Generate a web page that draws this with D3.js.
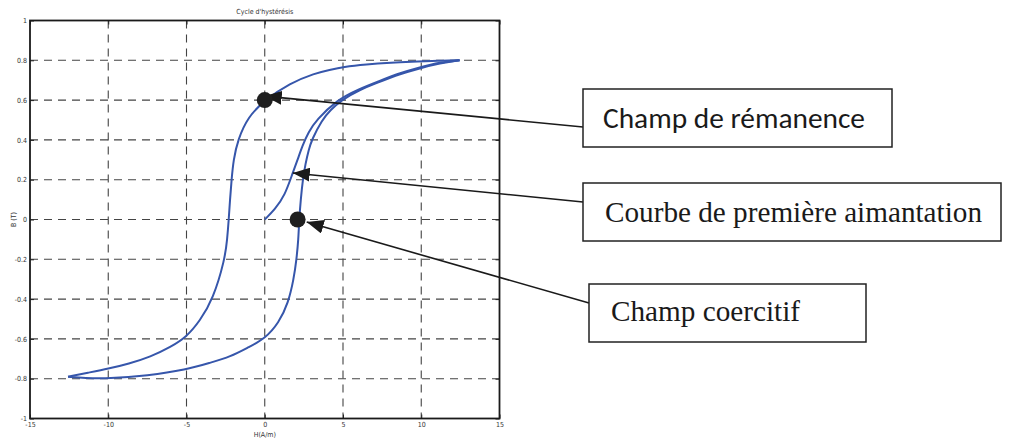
<!DOCTYPE html>
<html>
<head>
<meta charset="utf-8">
<script src="https://cdn.jsdelivr.net/npm/d3@7"></script>
<style>
  body { margin: 0; background: #fff; }
  .tick-label { font-family: "Liberation Sans Narrow", "DejaVu Sans Condensed", "Liberation Sans", sans-serif; font-size: 7px; fill: #333; }
  .grid-line { stroke: #444; stroke-width: 1.1; stroke-dasharray: 8,6; }
  .loop { fill: none; stroke: #3656ab; stroke-width: 2; }
  .note-box { fill: #fff; stroke: #222; stroke-width: 1.5; }
  .arrow { stroke: #1a1a1a; stroke-width: 1.6; }
  .note-sans { font-family: Carlito, Lato, "Open Sans", sans-serif; font-size: 28px; fill: #1a1a1a; }
  .note-serif { font-family: "Liberation Serif", "DejaVu Serif", serif; font-size: 29px; fill: #1a1a1a; }
</style>
</head>
<body>
<div id="chart"></div>
<script>
// descending branch (upper), from the positive tip to the negative tip
const hDown = [12.45, 11, 9.9, 8, 6.5, 5, 4.15, 3.2, 1.6, 0, -1.08, -1.72, -2.0, -2.12, -2.22, -2.3, -2.4, -2.55, -3.3, -4.15, -5, -6, -7.3, -8.7, -10, -11.3, -12.57];
const bDown = [0.80, 0.798, 0.795, 0.788, 0.78, 0.767, 0.752, 0.735, 0.685, 0.6, 0.515, 0.4, 0.3, 0.2, 0.1, 0, -0.1, -0.2, -0.4, -0.51, -0.59, -0.64, -0.69, -0.725, -0.75, -0.77, -0.79];

// ascending branch (lower), from the negative tip back to the positive tip
const hUp = [-12.57, -11.5, -10, -7.5, -5, -3.5, -2.2, -1, 0, 0.9, 1.5, 1.85, 2.03, 2.15, 2.2, 2.3, 2.43, 2.6, 2.81, 3.0, 3.65, 4.2, 4.9, 6, 7.3, 8.6, 9.9, 11.2, 12.45];
const bUp = [-0.79, -0.797, -0.80, -0.785, -0.755, -0.72, -0.69, -0.64, -0.6, -0.52, -0.42, -0.3, -0.2, -0.1, 0, 0.1, 0.2, 0.28, 0.35, 0.4, 0.5, 0.55, 0.6, 0.65, 0.69, 0.73, 0.76, 0.785, 0.80];

// first magnetisation curve
const hFirst = [0, 0.64, 1.28, 1.79, 2.1, 2.4, 2.8, 3.3, 4.6, 6, 7.3, 8.6, 9.9, 11.2, 12.45];
const bFirst = [0, 0.05, 0.12, 0.235, 0.3, 0.37, 0.44, 0.5, 0.6, 0.655, 0.695, 0.735, 0.765, 0.79, 0.80];

const xTicks = [-15, -10, -5, 0, 5, 10, 15];
const xTickLabels = ["-15", "-10", "-5", "0", "5", "10", "15"];
const yTicks = [-1, -0.8, -0.6, -0.4, -0.2, 0, 0.2, 0.4, 0.6, 0.8, 1];
const yTickLabels = ["-1", "-0.8", "-0.6", "-0.4", "-0.2", "0", "0.2", "0.4", "0.6", "0.8", "1"];

const title = "Cycle d'hystérésis";
const xLabel = "H(A/m)";
const yLabel = "B (T)";

// marked points (remanence, coercive field)
const markH = [0, 2.1];
const markB = [0.6, 0];

// annotations: text and the point each arrow points at
const noteTexts = ["Champ de rémanence", "Courbe de première aimantation", "Champ coercitif"];
const noteTipH = [0.0, 1.79, 2.68];
const noteTipB = [0.62, 0.234, -0.013];

const width = 1012, height = 439;
const plot = { left: 30, right: 499.5, top: 20.5, bottom: 418.5 };

const svg = d3.select("#chart").append("svg")
  .attr("width", width)
  .attr("height", height);

svg.append("defs").append("marker")
  .attr("id", "head")
  .attr("viewBox", "0 0 17 14")
  .attr("refX", 17).attr("refY", 7)
  .attr("markerWidth", 17).attr("markerHeight", 14)
  .attr("markerUnits", "userSpaceOnUse")
  .attr("orient", "auto")
  .append("path")
  .attr("d", "M0,0 L17,7 L0,14 Z")
  .attr("fill", "#1a1a1a");

const x = d3.scaleLinear().domain([-15, 15]).range([plot.left, plot.right]);
const y = d3.scaleLinear().domain([-1, 1]).range([plot.bottom, plot.top]);

// grid
const grid = svg.append("g");
grid.selectAll("line.gx")
  .data(xTicks.slice(1, -1))
  .enter().append("line")
  .attr("class", "grid-line")
  .attr("x1", d => x(d)).attr("x2", d => x(d))
  .attr("y1", plot.top).attr("y2", plot.bottom);
grid.selectAll("line.gy")
  .data(yTicks.slice(1, -1))
  .enter().append("line")
  .attr("class", "grid-line")
  .attr("x1", plot.left).attr("x2", plot.right)
  .attr("y1", d => y(d)).attr("y2", d => y(d));

// axes with inward ticks on all four sides
const axB = svg.append("g").attr("transform", `translate(0,${plot.bottom})`)
  .call(d3.axisBottom(x).tickValues(xTicks).tickSize(-4).tickPadding(4).tickFormat((d, i) => xTickLabels[i]));
const axT = svg.append("g").attr("transform", `translate(0,${plot.top})`)
  .call(d3.axisTop(x).tickValues(xTicks).tickSize(-4).tickFormat(""));
const axL = svg.append("g").attr("transform", `translate(${plot.left},0)`)
  .call(d3.axisLeft(y).tickValues(yTicks).tickSize(-4).tickPadding(3).tickFormat((d, i) => yTickLabels[i]));
const axR = svg.append("g").attr("transform", `translate(${plot.right},0)`)
  .call(d3.axisRight(y).tickValues(yTicks).tickSize(-4).tickFormat(""));

[axB, axT, axL, axR].forEach(g => {
  g.select(".domain").remove();
  g.selectAll(".tick line").attr("stroke", "#222").attr("stroke-width", 1);
  g.selectAll(".tick text").attr("class", "tick-label").attr("fill", null);
});

svg.append("rect")
  .attr("x", plot.left).attr("y", plot.top)
  .attr("width", plot.right - plot.left)
  .attr("height", plot.bottom - plot.top)
  .attr("fill", "none")
  .attr("stroke", "#1a1a1a")
  .attr("stroke-width", 1.8);

// curves
const line = d3.line()
  .x(d => x(d[0]))
  .y(d => y(d[1]))
  .curve(d3.curveBasis);

[[hDown, bDown], [hUp, bUp], [hFirst, bFirst]].forEach(([hs, bs]) => {
  svg.append("path")
    .datum(hs.map((h, i) => [h, bs[i]]))
    .attr("class", "loop")
    .attr("d", line);
});

// titles
svg.append("text")
  .attr("class", "tick-label")
  .attr("x", x(0)).attr("y", 14)
  .attr("text-anchor", "middle")
  .text(title);
svg.append("text")
  .attr("class", "tick-label")
  .attr("x", x(0)).attr("y", 437)
  .attr("text-anchor", "middle")
  .text(xLabel);
svg.append("text")
  .attr("class", "tick-label")
  .attr("transform", `translate(16,${y(0)}) rotate(-90)`)
  .attr("text-anchor", "middle")
  .text(yLabel);

// annotation boxes
const boxes = [
  { x: 583, y: 89, w: 309, h: 58, tx: 603, ty: 128, cls: "note-sans", len: 262, ax: 583, ay: 127 },
  { x: 583, y: 183, w: 418, h: 58, tx: 605, ty: 222, cls: "note-serif", len: 377, ax: 583, ay: 202 },
  { x: 589, y: 284, w: 277, h: 58, tx: 611, ty: 321, cls: "note-serif", len: 189, ax: 589, ay: 303 }
];

boxes.forEach((b, i) => {
  svg.append("line")
    .attr("class", "arrow")
    .attr("x1", b.ax).attr("y1", b.ay)
    .attr("x2", x(noteTipH[i])).attr("y2", y(noteTipB[i]))
    .attr("marker-end", "url(#head)");
});

svg.selectAll("circle.mark")
  .data(markH)
  .enter().append("circle")
  .attr("class", "mark")
  .attr("cx", d => x(d))
  .attr("cy", (d, i) => y(markB[i]))
  .attr("r", 8)
  .attr("fill", "#1f1f1f");

boxes.forEach((b, i) => {
  svg.append("rect")
    .attr("class", "note-box")
    .attr("x", b.x).attr("y", b.y)
    .attr("width", b.w).attr("height", b.h);
  svg.append("text")
    .attr("class", b.cls)
    .attr("x", b.tx).attr("y", b.ty)
    .attr("textLength", b.len)
    .attr("lengthAdjust", "spacingAndGlyphs")
    .text(noteTexts[i]);
});
</script>
</body>
</html>
